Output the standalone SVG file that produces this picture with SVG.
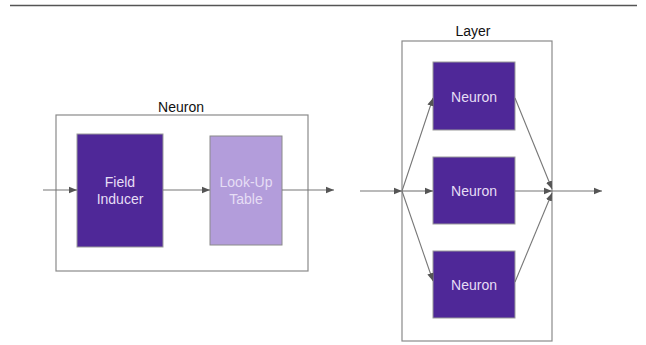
<svg xmlns="http://www.w3.org/2000/svg" width="646" height="345" viewBox="0 0 646 345">
  <style>
    .frame { fill: #ffffff; stroke: #8a8a8a; stroke-width: 1.2; }
    .dark { fill: #4f2898; stroke: #9a9a9a; stroke-width: 1; }
    .light { fill: #b39ddb; stroke: #8a8a8a; stroke-width: 1; }
    .lbl { font-family: "Liberation Sans", Arial, sans-serif; font-size: 14px; fill: #111111; text-anchor: middle; }
    .in { font-family: "Liberation Sans", Arial, sans-serif; font-size: 14px; fill: #e6def5; text-anchor: middle; }
    .wire { fill: none; stroke: #777777; stroke-width: 1.1; marker-end: url(#head); }
    .plain { fill: none; stroke: #777777; stroke-width: 1.1; }
  </style>
  <defs>
    <marker id="head" viewBox="0 0 10 10" refX="10" refY="5" markerWidth="8" markerHeight="8" markerUnits="userSpaceOnUse" orient="auto">
      <path d="M0,1 L10,5 L0,9 Z" fill="#555555"/>
    </marker>
  </defs>

  <!-- top rule -->
  <line x1="10" y1="5.5" x2="637" y2="5.5" stroke="#555555" stroke-width="1.5"/>

  <!-- single neuron block -->
  <g id="neuron-frame">
    <rect class="frame" x="56" y="115" width="252" height="156"/>
    <text class="lbl" x="181" y="112">Neuron</text>
  </g>
  <g id="field-inducer">
    <rect class="dark" x="77" y="134" width="86" height="113"/>
    <text class="in" x="120" y="187">Field</text>
    <text class="in" x="120" y="204">Inducer</text>
  </g>
  <g id="lookup-table">
    <rect class="light" x="210" y="136" width="72" height="109"/>
    <text class="in" x="246" y="187">Look-Up</text>
    <text class="in" x="246" y="204">Table</text>
  </g>

  <!-- layer block -->
  <g id="layer-frame">
    <rect class="frame" x="402" y="41" width="150" height="300"/>
    <text class="lbl" x="473" y="36">Layer</text>
  </g>
  <g id="layer-neuron-1">
    <rect class="dark" x="433" y="62" width="82" height="68"/>
    <text class="in" x="474" y="102">Neuron</text>
  </g>
  <g id="layer-neuron-2">
    <rect class="dark" x="433" y="157" width="82" height="67"/>
    <text class="in" x="474" y="196">Neuron</text>
  </g>
  <g id="layer-neuron-3">
    <rect class="dark" x="433" y="251" width="82" height="67"/>
    <text class="in" x="474" y="290">Neuron</text>
  </g>

  <g id="connectors">
    <!-- neuron internals -->
    <line class="wire" x1="43" y1="190" x2="77" y2="190"/>
    <line class="wire" x1="163" y1="190" x2="210" y2="190"/>
    <line class="wire" x1="282" y1="190" x2="334" y2="190"/>

    <!-- layer fan-out -->
    <line class="wire" x1="360" y1="191" x2="402" y2="191"/>
    <line class="wire" x1="402" y1="191" x2="433" y2="98"/>
    <line class="wire" x1="402" y1="191" x2="433" y2="191"/>
    <line class="wire" x1="402" y1="191" x2="433" y2="281"/>

    <!-- layer fan-in -->
    <line class="wire" x1="515" y1="98" x2="552" y2="189"/>
    <line class="wire" x1="515" y1="191" x2="552" y2="191"/>
    <line class="wire" x1="515" y1="282" x2="552" y2="193"/>
    <line class="wire" x1="552" y1="191" x2="602" y2="191"/>
  </g>
</svg>
